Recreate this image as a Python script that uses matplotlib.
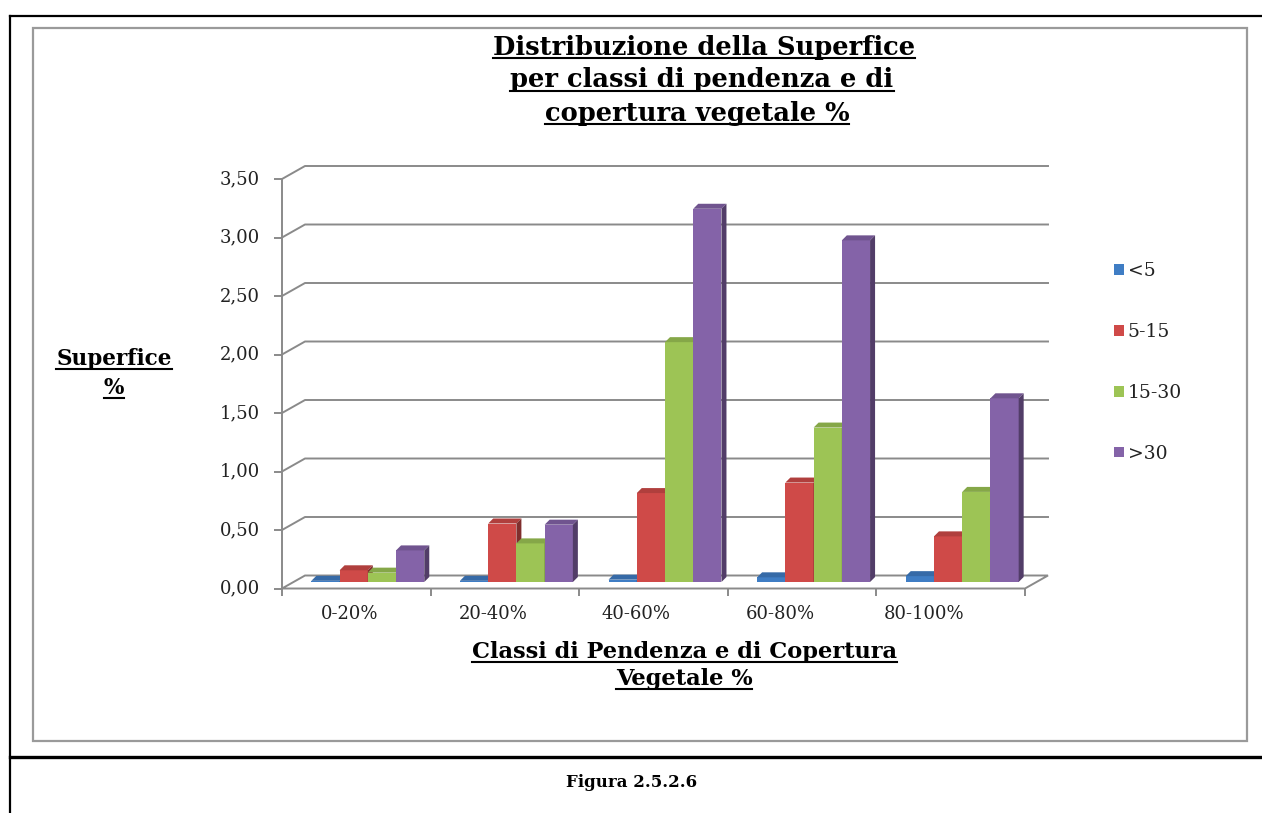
import matplotlib
matplotlib.use("Agg")
import matplotlib.pyplot as plt
from matplotlib.lines import Line2D
from matplotlib.patches import Polygon, Rectangle
from matplotlib.markers import TICKLEFT, TICKDOWN
import numpy as np

# Classi di pendenza / copertura e superfici (%)
classi = ['0-20%', '20-40%', '40-60%', '60-80%', '80-100%']
serie = ['<5', '5-15', '15-30', '>30']
sup_lt5 = [0.01, 0.01, 0.02, 0.04, 0.05]
sup_5_15 = [0.10, 0.50, 0.76, 0.85, 0.39]
sup_15_30 = [0.08, 0.33, 2.05, 1.32, 0.77]
sup_gt30 = [0.27, 0.49, 3.19, 2.92, 1.57]
y_ticks = [0.0, 0.5, 1.0, 1.5, 2.0, 2.5, 3.0, 3.5]
y_tick_labels = ['0,00', '0,50', '1,00', '1,50', '2,00', '2,50', '3,00', '3,50']

colori = ['#3F7DC4', '#CF4A48', '#9DC455', '#8463A8']
grigio = '#8A8A8A'

plt.rcParams['font.family'] = ['DejaVu Serif']

W, H = 1262, 813
fig = plt.figure(figsize=(W / 100, H / 100), dpi=100)

# axes = piano intermedio (dove stanno le barre)
ax_l, ax_b, ax_w, ax_h = 293.5, 231, 743, 409.5
ax = fig.add_axes([ax_l / W, ax_b / H, ax_w / W, ax_h / H])
ax.set_xlim(0, 5)
ax.set_ylim(0, 3.5)
ax.axis('off')

# un pixel in unita' dati
pxx = 5 / ax_w
pxy = 3.5 / ax_h
# spostamento piano frontale / parete di fondo
ox, oy = 11.5 * pxx, 6.5 * pxy
# profondita' delle singole barre
bdx, bdy = 5 * pxx, 5 * pxy


def scuro(c, f):
    r, g, b = matplotlib.colors.to_rgb(c)
    return (r * f, g * f, b * f)


# pavimento
floor = Polygon([(-ox, -oy), (5 - ox, -oy), (5 + ox, oy), (ox, oy)],
                closed=True, facecolor='white', edgecolor=grigio,
                linewidth=1.4, zorder=1, clip_on=False)
ax.add_patch(floor)

# griglia sulla parete di fondo + parete laterale
for yv in y_ticks[1:]:
    ax.plot([-ox, ox, 5 + ox], [yv - oy, yv + oy, yv + oy],
            color=grigio, lw=1.4, zorder=1, clip_on=False)

# asse verticale frontale con tacche
ax.plot([-ox, -ox], [-oy, 3.5 - oy], color=grigio, lw=1.4, zorder=1, clip_on=False)
ax.plot([-ox] * len(y_ticks), np.array(y_ticks) - oy, ls='none',
        marker=TICKLEFT, ms=6, mew=1.4, color=grigio, clip_on=False)
for yv, lab in zip(y_ticks, y_tick_labels):
    ax.text(-ox - 22 * pxx, yv - oy, lab, ha='right', va='center',
            fontsize=13, color='#222222')

# tacche delle categorie sul bordo frontale
ax.plot(np.arange(6) - ox, [-oy] * 6, ls='none', marker=TICKDOWN,
        ms=5, mew=1.4, color=grigio, clip_on=False)
for i, lab in enumerate(classi):
    ax.text(i + 0.5 - ox - (7 + 5 * i) * pxx, -oy - 25 * pxy, lab,
            ha='center', va='center', fontsize=13, color='#222222')

# barre pseudo-3D
bw = 0.19
x = np.arange(len(classi)) + 0.5
valori = [sup_lt5, sup_5_15, sup_15_30, sup_gt30]
handles = []
for k, (vals, col) in enumerate(zip(valori, colori)):
    pos = x + (k - 1.5) * bw
    bars = ax.bar(pos, vals, width=bw, color=col, linewidth=0, zorder=3 + k)
    handles.append(bars)
    for rect in bars:
        x0 = rect.get_x()
        x1 = x0 + rect.get_width()
        h = rect.get_height()
        top = Polygon([(x0, h), (x1, h), (x1 + bdx, h + bdy), (x0 + bdx, h + bdy)],
                      closed=True, facecolor=scuro(col, 0.85), linewidth=0,
                      zorder=3 + k + 0.5)
        side = Polygon([(x1, 0), (x1, h), (x1 + bdx, h + bdy), (x1 + bdx, bdy)],
                       closed=True, facecolor=scuro(col, 0.62), linewidth=0,
                       zorder=3 + k + 0.5)
        ax.add_patch(top)
        ax.add_patch(side)

leg = ax.legend(handles, serie, loc='upper left',
                bbox_to_anchor=(1105 / W, 1 - 253 / H),
                bbox_transform=fig.transFigure, frameon=False,
                handlelength=0.5, handleheight=0.5, handletextpad=0.2,
                labelspacing=2.28, fontsize=13.5, borderpad=0)
for t in leg.get_texts():
    t.set_color('#222222')

# testi (ogni riga separata per poterla sottolineare)
sottolineati = []


def riga(xp, yp, s, size):
    t = fig.text(xp / W, 1 - yp / H, s, ha='center', va='center',
                 fontsize=size, fontweight='bold', color='black')
    sottolineati.append(t)
    return t


riga(704, 47, 'Distribuzione della Superfice', 18.5)
riga(702, 80, 'per classi di pendenza e di', 18.5)
riga(697, 113, 'copertura vegetale %', 18.5)
riga(114, 359, 'Superfice', 15.5)
riga(114, 388, '%', 15.5)
riga(684, 652, 'Classi di Pendenza e di Copertura', 16.2)
riga(684, 679, 'Vegetale %', 16.2)

fig.text(632 / W, 1 - 782 / H, 'Figura 2.5.2.6', ha='center', va='center',
         fontsize=12, fontweight='bold', color='black')

fig.canvas.draw()
r = fig.canvas.get_renderer()
for t in sottolineati:
    bb = t.get_window_extent(r)
    fig.add_artist(Line2D([bb.x0 / W, bb.x1 / W], [(bb.y0 + 1) / H] * 2,
                          color='black', lw=1.5, transform=fig.transFigure))

# cornice del grafico e del documento
fig.add_artist(Rectangle((33 / W, 1 - 741 / H), (1247 - 33) / W, (741 - 28) / H,
                         fill=False, edgecolor='#9A9A9A', lw=1.6,
                         transform=fig.transFigure))
fig.add_artist(Line2D([10 / W, 1], [1 - 16 / H] * 2, color='black', lw=1.6,
                      transform=fig.transFigure))
fig.add_artist(Line2D([10 / W] * 2, [0, 1 - 16 / H], color='black', lw=1.6,
                      transform=fig.transFigure))
fig.add_artist(Line2D([10 / W, 1], [1 - 757 / H] * 2, color='black', lw=2.4,
                      transform=fig.transFigure))

fig.savefig('out.png', dpi=100)
